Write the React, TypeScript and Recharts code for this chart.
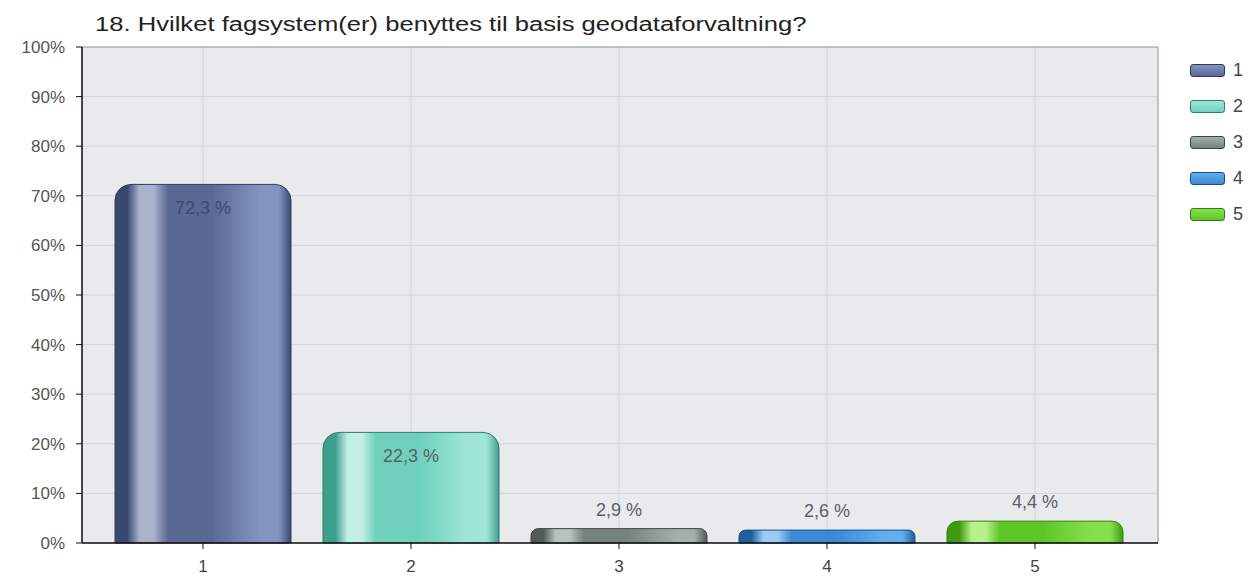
import { BarChart, Bar, XAxis, YAxis, CartesianGrid, Cell, LabelList } from "recharts";

const categories = ["1", "2", "3", "4", "5"];
const shares = [72.3, 22.3, 2.9, 2.6, 4.4];
const yTicks = [0, 10, 20, 30, 40, 50, 60, 70, 80, 90, 100];
const title = "18. Hvilket fagsystem(er) benyttes til basis geodataforvaltning?";

// dark edge, highlight, body, bright, outline
const palette = [
  ["#3a4870", "#aab3cc", "#5a6894", "#8494c2", "#2e3a5c"],
  ["#3f9e8c", "#c4efe6", "#6fd0bd", "#9fe6d8", "#2f7d6e"],
  ["#505a57", "#b8c2bf", "#76827e", "#a3aeab", "#3f4745"],
  ["#1f5f9e", "#9ccbf2", "#3c8ad6", "#62adf0", "#194f85"],
  ["#3f9a12", "#b8f08a", "#5fc628", "#86e04c", "#347f0f"],
];

const data = categories.map((name, i) => ({ name, value: shares[i] }));

const font = "'Liberation Sans', Arial, sans-serif";

const fmt = (v: number) => v.toFixed(1).replace(".", ",") + " %";

const renderLabel = (props: any) => {
  const { x, y, width, value, index } = props;
  const inside = value > 10;
  return (
    <text
      x={x + width / 2}
      y={inside ? y + 30 : y - 13}
      textAnchor="middle"
      fontSize={18}
      fontFamily={font}
      fill={index === 0 ? "#3c4a6a" : "#5a6068"}
    >
      {fmt(value)}
    </text>
  );
};

export default function App() {
  return (
    <div style={{ position: "relative", width: 1248, height: 579, fontFamily: font, overflow: "hidden" }}>
      <style>{"body{margin:0;overflow:hidden}"}</style>
      <div
        style={{
          position: "absolute",
          left: 95,
          top: 14,
          fontSize: 20,
          lineHeight: "20px",
          color: "#222",
          whiteSpace: "nowrap",
          transform: "scaleX(1.28)",
          transformOrigin: "left top",
        }}
      >
        {title}
      </div>
      <BarChart
        width={1248}
        height={579}
        data={data}
        margin={{ top: 47, right: 90, bottom: 0, left: 0 }}
      >
        <defs>
          {palette.map((c, i) => (
            <linearGradient key={i} id={"g" + i} x1="0" y1="0" x2="1" y2="0">
              <stop offset="0%" stopColor={c[0]} />
              <stop offset="7%" stopColor={c[0]} />
              <stop offset="14%" stopColor={c[1]} />
              <stop offset="22%" stopColor={c[1]} />
              <stop offset="30%" stopColor={c[2]} />
              <stop offset="55%" stopColor={c[2]} />
              <stop offset="82%" stopColor={c[3]} />
              <stop offset="93%" stopColor={c[3]} />
              <stop offset="100%" stopColor={c[0]} />
            </linearGradient>
          ))}
        </defs>
        <CartesianGrid stroke="#d3d6da" fill="#e8eaec" />
        <CartesianGrid
          stroke="#9a9ea4"
          verticalCoordinatesGenerator={({ offset }: any) => [offset.left + offset.width]}
          horizontalCoordinatesGenerator={({ offset }: any) => [offset.top]}
        />
        <XAxis
          dataKey="name"
          height={36}
          padding={{ left: 17, right: 19 }}
          axisLine={{ stroke: "#111", strokeWidth: 1.5 }}
          tickLine={{ stroke: "#111" }}
          tickSize={6}
          tickMargin={11}
          tick={{ fill: "#444", fontSize: 17, fontFamily: font }}
        />
        <YAxis
          width={82}
          domain={[0, 100]}
          ticks={yTicks}
          interval={0}
          tickFormatter={(v: number) => v + "%"}
          axisLine={{ stroke: "#111", strokeWidth: 1.5 }}
          tickLine={{ stroke: "#111" }}
          tickSize={6}
          tickMargin={11}
          tick={{ fill: "#555", fontSize: 17, fontFamily: font }}
        />
        <Bar dataKey="value" barSize={176} radius={[16, 16, 0, 0]} isAnimationActive={false}>
          {data.map((d, i) => (
            <Cell key={d.name} fill={`url(#g${i})`} stroke={palette[i][4]} strokeWidth={1} />
          ))}
          <LabelList dataKey="value" content={renderLabel} />
        </Bar>
      </BarChart>
      <div style={{ position: "absolute", left: 1190, top: 52 }}>
        {categories.map((c, i) => (
          <div key={c} style={{ display: "flex", alignItems: "center", height: 36 }}>
            <div
              style={{
                width: 33,
                height: 11,
                borderRadius: 3,
                border: `1px solid ${palette[i][4]}`,
                background: `linear-gradient(to bottom, ${palette[i][3]}, ${palette[i][2]})`,
              }}
            />
            <span style={{ marginLeft: 8, fontSize: 18, color: "#444" }}>{c}</span>
          </div>
        ))}
      </div>
    </div>
  );
}
